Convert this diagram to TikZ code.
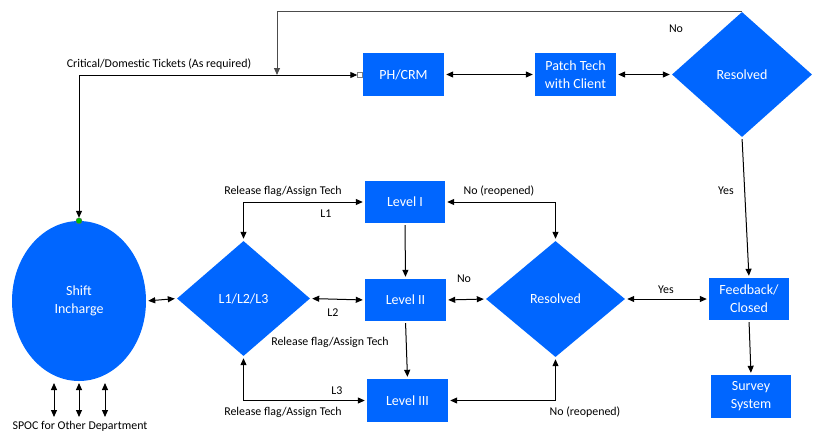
\documentclass[tikz,border=0pt]{standalone}
\usepackage{fontspec}
\setmainfont{Carlito}
\usepackage{xcolor}
\usetikzlibrary{arrows.meta,shapes.geometric}
\definecolor{flowblue}{RGB}{0,102,255}

\begin{document}
\begin{tikzpicture}[x=1pt,y=-1pt,
	box/.style={fill=flowblue,text=white,minimum width=81pt,minimum height=43pt,inner sep=0pt,align=center,font=\fontsize{14}{18}\selectfont},
	decision/.style={diamond,fill=flowblue,text=white,inner sep=0pt,font=\fontsize{14}{18}\selectfont},
	lbl/.style={font=\fontsize{11.9}{14}\selectfont,inner sep=0pt},
	link/.style={line width=1pt,shorten <=2pt,shorten >=2pt,-{Triangle[length=7pt,width=6pt]}},
	twoway/.style={line width=1pt,shorten <=2pt,shorten >=2pt,{Triangle[length=7pt,width=6pt]}-{Triangle[length=7pt,width=6pt]}}]
	
	\useasboundingbox (0,0) rectangle (819,437);
	
	% top row
	\node[box] (phcrm) at (403.5,74.5) {PH/CRM};
	\node[box] (patch) at (575.5,74.5) {Patch Tech\\with Client};
	\node[decision,minimum width=140pt,minimum height=125pt] (res1) at (742,74.5) {Resolved};
	
	% shift incharge and dispatch
	\node[ellipse,fill=flowblue,text=white,minimum width=134pt,minimum height=160pt,inner sep=0pt,align=center,font=\fontsize{14}{18}\selectfont] (sic) at (79,301) {Shift\\Incharge};
	\node[decision,minimum width=133pt,minimum height=115pt] (lvl) at (243.5,298.5) {L1/L2/L3};
	
	% support levels
	\node[box,minimum width=80pt,minimum height=42pt] (l1) at (405,202) {Level I};
	\node[box,minimum height=42pt] (l2) at (405.5,300) {Level II};
	\node[box,minimum height=43pt] (l3) at (407.5,400.5) {Level III};
	\node[decision,minimum width=139pt,minimum height=116pt] (res2) at (555.5,299) {Resolved};
	
	% closing
	\node[box,minimum width=80pt,minimum height=42pt] (fb) at (749,299) {Feedback/\\Closed};
	\node[box,minimum width=80pt] (survey) at (751,396.5) {Survey\\System};
	
	% connection points
	\node[draw=black!50,fill=white,minimum size=5pt,inner sep=0pt] (port) at (360,75) {};
	\node[circle,draw=black!60,fill=green!75!black,minimum size=6pt,inner sep=0pt] (dot) at (sic.north) {};
	\coordinate (j1) at (277,75);
	
	% top loop
	\draw[twoway,shorten >=0pt,shorten <=3pt] (sic.north) |- (port.west);
	\draw[link,draw=black!70,shorten >=0pt,shorten <=0pt] (res1.north) -| (j1);
	\draw[twoway] (phcrm.east) -- (patch.west);
	\draw[twoway] (patch.east) -- (res1.west);
	\draw[link] (res1.south) -- (fb.north);
	
	% levels
	\draw[twoway] (sic.east) -- (lvl.west);
	\draw[twoway] (lvl.north) |- (l1.west);
	\draw[twoway] (lvl.east) -- (l2.west);
	\draw[twoway] (lvl.south) |- (l3.west);
	\draw[link] (l1.south) -- (l2.north);
	\draw[link] (l2.south) -- (l3.north);
	\draw[twoway] (l2.east) -- (res2.west);
	\draw[twoway] (res2.north) |- (l1.east);
	\draw[twoway] (res2.south) |- (l3.east);
	\draw[twoway] (res2.east) -- (fb.west);
	\draw[link] (fb.south) -- (survey.north);
	
	% other departments
	\foreach \x/\i in {54/1,79/2,105/3} {
		\coordinate (up\i) at (\x,381);
		\coordinate (dn\i) at (\x,419);
		\draw[twoway] (up\i) -- (dn\i);
	}
	
	% labels
	\node[lbl] (crit) at (159,64) {Critical/Domestic Tickets (As required)};
	\node[lbl] (no1) at (676,29) {No};
	\node[lbl] (yes1) at (726,191) {Yes};
	\node[lbl] (rel1) at (283,191) {Release flag/Assign Tech};
	\node[lbl] (t1) at (326,214) {L1};
	\node[lbl] (t2) at (333,313) {L2};
	\node[lbl] (rel2) at (330,342) {Release flag/Assign Tech};
	\node[lbl] (t3) at (337,391) {L3};
	\node[lbl] (rel3) at (283,412) {Release flag/Assign Tech};
	\node[lbl] (no2) at (464,279) {No};
	\node[lbl] (reop1) at (499,191) {No (reopened)};
	\node[lbl] (reop2) at (585,412) {No (reopened)};
	\node[lbl] (yes2) at (666,290) {Yes};
	\node[lbl] (spoc) at (80,426) {SPOC for Other Department};
	
\end{tikzpicture}
\end{document}
